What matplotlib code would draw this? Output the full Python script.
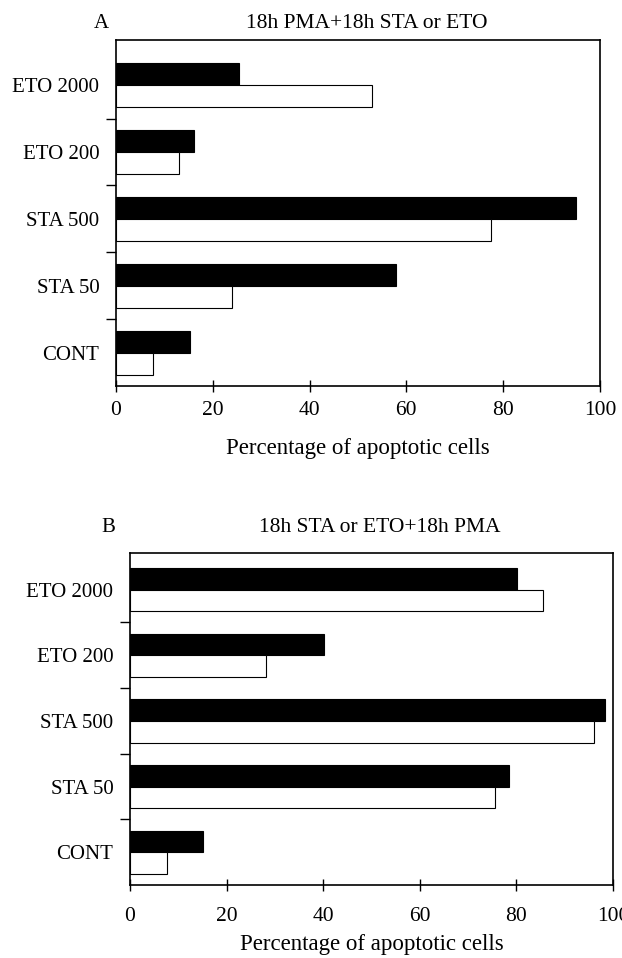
import matplotlib.pyplot as plt
import numpy as np

plt.rcParams['font.family'] = ['Liberation Serif', 'DejaVu Serif']

categories = ['CONT', 'STA 50', 'STA 500', 'ETO 200', 'ETO 2000']
xticks = [0, 20, 40, 60, 80, 100]

# panel A: 18h PMA then 18h STA or ETO
a_black = [15.2, 57.8, 95.0, 16.2, 25.5]
a_white = [7.7, 23.9, 77.5, 13.0, 53.0]

# panel B: 18h STA or ETO then 18h PMA
b_black = [15.2, 78.4, 98.3, 40.2, 80.2]
b_white = [7.7, 75.5, 96.0, 28.2, 85.5]

fig = plt.figure(figsize=(6.22, 9.58), dpi=100)


def draw_panel(ax, black, white, ytop, tpad, lpad):
    pos = np.arange(len(categories)) + 0.5
    bh = 0.33
    ax.barh(pos, black, height=bh, align='edge', color='black', edgecolor='black', linewidth=0.8)
    ax.barh(pos, white, height=-bh, align='edge', color='white', edgecolor='black', linewidth=0.8)
    ax.set_xlim(0, 100)
    ax.set_ylim(0, ytop)
    ax.set_xticks(xticks)
    ax.tick_params(axis='x', direction='inout', length=9, width=1, labelsize=15.5, pad=tpad)
    ax.set_yticks([1, 2, 3, 4])
    ax.set_yticklabels([])
    ax.tick_params(axis='y', which='major', direction='out', length=7, width=1)
    ax.set_yticks(pos, minor=True)
    ax.set_yticklabels(categories, minor=True, fontsize=15)
    ax.tick_params(axis='y', which='minor', length=0, pad=12)
    for s in ax.spines.values():
        s.set_linewidth(1.2)
    ax.set_xlabel('Percentage of apoptotic cells', fontsize=16.5, labelpad=lpad)


ax1 = fig.add_axes([0.1865, 0.597, 0.778, 0.361])
draw_panel(ax1, a_black, a_white, 5.17, 6, 13)
fig.text(101 / 622, 1 - 24 / 958, 'A', fontsize=15, ha='center', va='center')
fig.text(367 / 622, 1 - 23 / 958, '18h PMA+18h STA or ETO', fontsize=15.5, ha='center', va='center')

ax2 = fig.add_axes([0.209, 0.076, 0.7765, 0.347])
draw_panel(ax2, b_black, b_white, 5.06, 11, 6)
fig.text(108 / 622, 1 - 528 / 958, 'B', fontsize=15, ha='center', va='center')
fig.text(380 / 622, 1 - 527 / 958, '18h STA or ETO+18h PMA', fontsize=15.5, ha='center', va='center')

fig.savefig('out.png', dpi=100)
